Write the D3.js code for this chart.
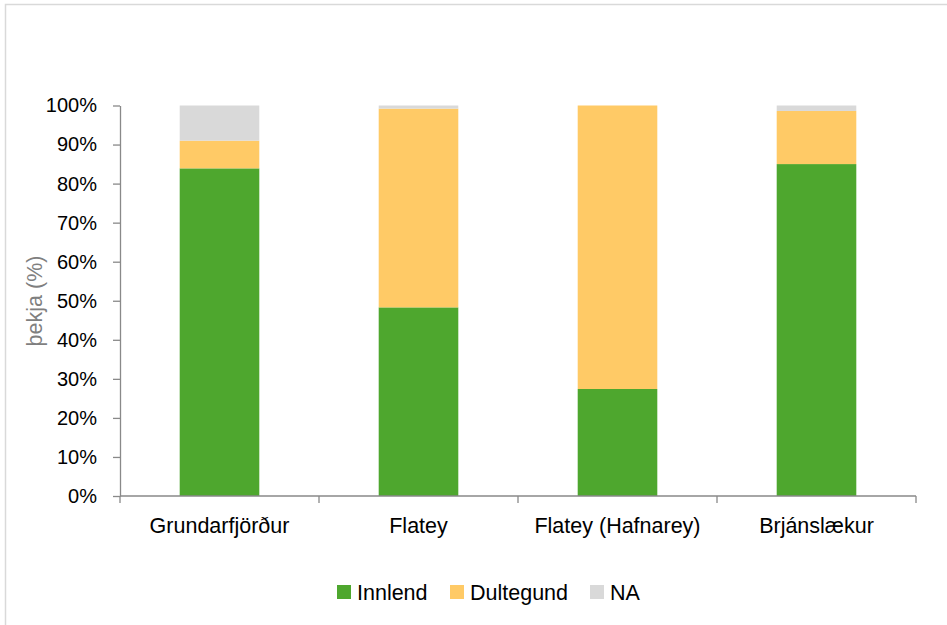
<!DOCTYPE html>
<html>
<head>
<meta charset="utf-8">
<script src="https://cdn.jsdelivr.net/npm/d3@7"></script>
<style>
  html, body { margin: 0; padding: 0; background: #fff; }
  svg { display: block; }
</style>
</head>
<body>
<svg id="chart" width="947" height="625"></svg>
<script>
// Site categories along the x axis
const categories = ["Grundarfjörður", "Flatey", "Flatey (Hafnarey)", "Brjánslækur"];

// Share of cover (%) per site, stacked bottom to top
const innlend   = [83.9, 48.3, 27.4, 85.0];
const dultegund = [7.1, 50.9, 72.6, 13.6];
const na        = [9.0, 0.8, 0.0, 1.4];

const seriesNames  = ["Innlend", "Dultegund", "NA"];
const seriesColors = ["#4ea72e", "#ffca66", "#d9d9d9"];

const yTicks = [0, 10, 20, 30, 40, 50, 60, 70, 80, 90, 100];
const yTitle = "þekja (%)";

const svg = d3.select("#chart");
const W = 947, H = 625;

// Outer chart frame (only the top and left edges fall inside the view)
svg.append("rect")
  .attr("x", 5.5).attr("y", 4.5)
  .attr("width", W + 10).attr("height", H + 10)
  .attr("fill", "none").attr("stroke", "#d9d9d9").attr("stroke-width", 1.5);

const plot = { left: 120, right: 916, top: 105.5, bottom: 496 };

const x = d3.scaleBand()
  .domain(categories)
  .range([plot.left, plot.right])
  .paddingInner(0.6).paddingOuter(0.3);

const y = d3.scaleLinear().domain([0, 100]).range([plot.bottom, plot.top]);

const rows = categories.map((c, i) => ({
  cat: c, Innlend: innlend[i], Dultegund: dultegund[i], NA: na[i]
}));
const stacked = d3.stack().keys(seriesNames)(rows);

const g = svg.append("g");
stacked.forEach((layer, k) => {
  g.selectAll(null)
    .data(layer)
    .enter().append("rect")
    .attr("x", d => x(d.data.cat))
    .attr("width", x.bandwidth())
    .attr("y", d => y(d[1]))
    .attr("height", d => Math.max(0, y(d[0]) - y(d[1])))
    .attr("fill", seriesColors[k]);
});

// Y axis
const yAxis = svg.append("g")
  .attr("transform", `translate(${plot.left},0)`)
  .call(d3.axisLeft(y).tickValues(yTicks).tickFormat(d => d + "%").tickSizeInner(7).tickSizeOuter(0).tickPadding(16));
yAxis.select(".domain").attr("stroke", "#898989").attr("stroke-width", 1.3);
yAxis.selectAll(".tick line").attr("stroke", "#898989").attr("stroke-width", 1.3);
yAxis.selectAll(".tick text")
  .attr("fill", "#000")
  .style("font-family", "'Liberation Sans', Arial, sans-serif")
  .style("font-size", "20px");

// X axis with tick marks between categories
const xAxisG = svg.append("g");
xAxisG.append("line")
  .attr("x1", plot.left).attr("x2", plot.right)
  .attr("y1", plot.bottom).attr("y2", plot.bottom)
  .attr("stroke", "#898989").attr("stroke-width", 1.3);
const edges = d3.range(categories.length + 1).map(i => plot.left + (plot.right - plot.left) * i / categories.length);
xAxisG.selectAll(null).data(edges).enter().append("line")
  .attr("x1", d => d).attr("x2", d => d)
  .attr("y1", plot.bottom).attr("y2", plot.bottom + 7)
  .attr("stroke", "#898989").attr("stroke-width", 1.3);
xAxisG.selectAll(null).data(categories).enter().append("text")
  .attr("x", d => x(d) + x.bandwidth() / 2)
  .attr("y", 533)
  .attr("text-anchor", "middle")
  .attr("fill", "#000")
  .style("font-family", "'Liberation Sans', Arial, sans-serif")
  .style("font-size", "21.5px")
  .text(d => d);

// Y axis title
svg.append("text")
  .attr("transform", "translate(42,301) rotate(-90)")
  .attr("text-anchor", "middle")
  .attr("fill", "#7f7f7f")
  .style("font-family", "'Liberation Sans', Arial, sans-serif")
  .style("font-size", "21.5px")
  .text(yTitle);

// Legend
const legendX = [337, 450, 590];
const legend = svg.append("g");
seriesNames.forEach((name, i) => {
  legend.append("rect")
    .attr("x", legendX[i]).attr("y", 585)
    .attr("width", 14).attr("height", 14)
    .attr("fill", seriesColors[i]);
  legend.append("text")
    .attr("x", legendX[i] + 20).attr("y", 599.5)
    .attr("fill", "#000")
    .style("font-family", "'Liberation Sans', Arial, sans-serif")
    .style("font-size", "21.5px")
    .text(name);
});
</script>
</body>
</html>
